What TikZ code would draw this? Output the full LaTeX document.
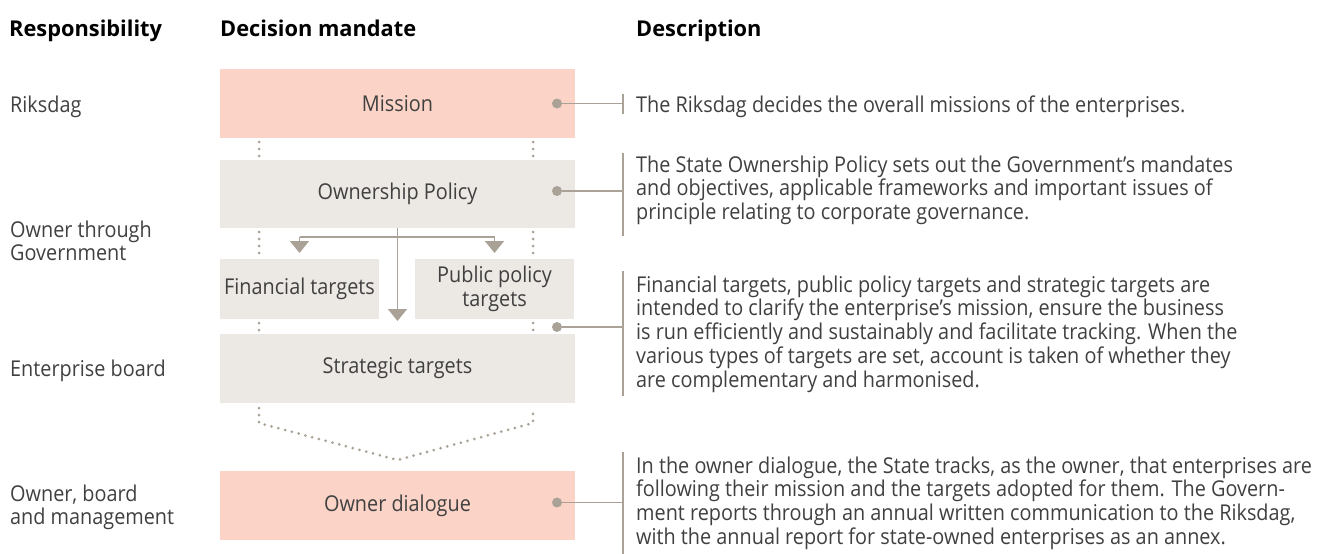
\documentclass[tikz,border=0pt]{standalone}
\usepackage{fontspec}
\setmainfont{Open Sans}[FakeStretch=0.91]
\newfontfamily\headfont{Open Sans}
\usetikzlibrary{arrows.meta,calc}
\definecolor{pinkbox}{HTML}{FBD4C7}
\definecolor{greybox}{HTML}{ECE8E4}
\definecolor{linec}{HTML}{AAA297}
\definecolor{txt}{HTML}{404040}
\newcommand{\bodyfont}{\fontsize{21.8}{23.8}\selectfont}
\begin{document}
\begin{tikzpicture}[x=1pt,y=-1pt,
  box/.style={minimum width=355pt,minimum height=69pt,inner sep=0pt,outer sep=0pt,text=txt,font=\bodyfont,align=center},
  pinkb/.style={box,fill=pinkbox},
  greyb/.style={box,fill=greybox},
  head/.style={anchor=base west,inner sep=0pt,font=\headfont\fontsize{21.8}{24}\selectfont\bfseries,text=black},
  lab/.style={anchor=base west,inner sep=0pt,font=\bodyfont,text=txt},
  dots/.style={linec,line width=3pt,line cap=round,dash pattern=on 0pt off 7pt},
  conn/.style={linec,line width=1.5pt},
  arr/.style={conn,-{Triangle[width=19pt,length=12pt]}},
  dotc/.style={circle,fill=linec,inner sep=0pt,minimum size=10pt}
]
\useasboundingbox (0,0) rectangle (1325,554);
% headers
\node[head] (h1) at (9,36) {Responsibility};
\node[head] (h2) at (220,36) {Decision mandate};
\node[head] (h3) at (636,36) {Description};
% left labels
\node[lab] (l1) at (10,112) {Riksdag};
\node[lab] (l2) at (10,237) {\parbox[t]{200pt}{\raggedright Owner through\\Government}};
\node[lab] (l3) at (10,376) {Enterprise board};
\node[lab] (l4) at (10,501) {\parbox[t]{200pt}{\raggedright Owner, board\\and management}};
% boxes
\node[pinkb] (mis) at (397.5,103.5) {Mission};
\node[greyb,minimum height=68pt] (own) at (397.5,194) {Ownership Policy};
\node[greyb,minimum width=159pt,minimum height=60pt] (fin) at (299.5,289) {Financial targets};
\node[greyb,minimum width=159pt,minimum height=60pt] (pub) at (494.5,289) {Public policy\\targets};
\node[greyb] (str) at (397.5,368.5) {Strategic targets};
\node[pinkb] (dia) at (397.5,505.5) {Owner dialogue};
% dotted guides
\draw[dots] ($(mis.south west)+(39,4)$) -- ($(own.north west)+(39,-2)$);
\draw[dots] ($(mis.south east)+(-42,4)$) -- ($(own.north east)+(-42,-2)$);
\draw[dots] ($(own.south west)+(39,4)$) -- ($(fin.north west)+(39,-2)$);
\draw[dots] ($(own.south east)+(-42,4)$) -- ($(pub.north east)+(-41,-2)$);
\draw[dots] ($(fin.south west)+(39,4)$) -- ($(str.north west)+(39,-2)$);
\draw[dots] ($(pub.south east)+(-41,4)$) -- ($(str.north east)+(-42,-2)$);
\coordinate (vtip) at ($(dia.north)+(0,-11)$);
\draw[dots] ($(str.south west)+(39,5)$) -- ($(str.south west)+(39,20)$) -- (vtip) -- ($(str.south east)+(-42,20)$) -- ($(str.south east)+(-42,5)$);
% arrows
\coordinate (bar) at ($(own.south)+(0,9)$);
\draw[arr] (own.south) -- ($(fin.south -| own.south)+(0,2)$);
\draw[arr] (bar -| fin.north) -- ($(fin.north)+(0,-6)$);
\draw[arr] (bar -| pub.north) -- ($(pub.north)+(0,-6)$);
\draw[conn] (bar -| fin.north) -- (bar -| pub.north);
% callouts
\node[dotc] (c1) at ($(mis.east)+(-18,0)$) {};
\node[dotc] (c2) at ($(own.east)+(-18,-3)$) {};
\node[dotc] (c3) at (557,327) {};
\node[dotc] (c4) at ($(dia.east)+(-18,-3)$) {};
\coordinate (b1) at (623,103.5);
\coordinate (b2) at (623,191);
\coordinate (b3) at (623,327);
\coordinate (b4) at (623,502.5);
\draw[conn] (c1) -- (b1); \draw[conn] ($(b1)+(0,-10)$) -- ($(b1)+(0,10)$);
\draw[conn] (c2) -- (b2); \draw[conn] (623,153) -- (623,236);
\draw[conn] (c3) -- (b3); \draw[conn] (623,271) -- (623,396);
\draw[conn] (c4) -- (b4); \draw[conn] (623,452) -- (623,554);
% descriptions
\node[lab] (d1) at (636,112) {The Riksdag decides the overall missions of the enterprises.};
\node[lab] (d2) at (636,172) {\parbox[t]{680pt}{\raggedright The State Ownership Policy sets out the Government’s mandates\\and objectives, applicable frameworks and important issues of\\principle relating to corporate governance.}};
\node[lab] (d3) at (636,292) {\parbox[t]{680pt}{\raggedright Financial targets, public policy targets and strategic targets are\\intended to clarify the enterprise’s mission, ensure the business\\is run efficiently and sustainably and facilitate tracking. When the\\various types of targets are set, account is taken of whether they\\are complementary and harmonised.}};
\node[lab] (d4) at (636,473) {\parbox[t]{680pt}{\raggedright In the owner dialogue, the State tracks, as the owner, that enterprises are\\following their mission and the targets adopted for them. The Govern-\\ment reports through an annual written communication to the Riksdag,\\with the annual report for state-owned enterprises as an annex.}};
\end{tikzpicture}
\end{document}
